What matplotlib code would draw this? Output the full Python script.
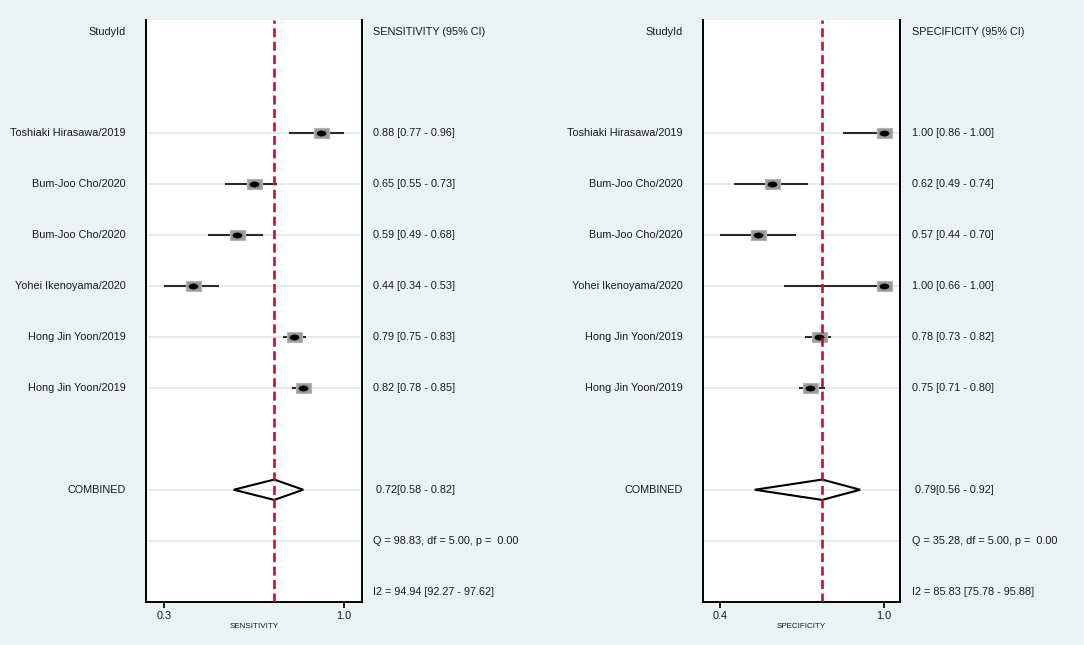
import numpy as np
import matplotlib
matplotlib.use('Agg')
import matplotlib.pyplot as plt
from matplotlib.patches import Polygon

# フォント設定
plt.rcParams['font.family'] = ['Liberation Sans', 'DejaVu Sans']
plt.rcParams['font.size'] = 7.8

# データ
studies = ['Toshiaki Hirasawa/2019', 'Bum-Joo Cho/2020', 'Bum-Joo Cho/2020',
           'Yohei Ikenoyama/2020', 'Hong Jin Yoon/2019', 'Hong Jin Yoon/2019']

sens = [0.88, 0.65, 0.59, 0.44, 0.79, 0.82]
sens_lo = [0.77, 0.55, 0.49, 0.34, 0.75, 0.78]
sens_hi = [0.96, 0.73, 0.68, 0.53, 0.83, 0.85]
sens_pooled = [0.72, 0.58, 0.82]
sens_q = [98.83, 5.00, 0.00]
sens_i2 = [94.94, 92.27, 97.62]

spec = [1.00, 0.62, 0.57, 1.00, 0.78, 0.75]
spec_lo = [0.86, 0.49, 0.44, 0.66, 0.73, 0.71]
spec_hi = [1.00, 0.74, 0.70, 1.00, 0.82, 0.80]
spec_pooled = [0.79, 0.56, 0.92]
spec_q = [35.28, 5.00, 0.00]
spec_i2 = [85.83, 75.78, 95.88]

BG = '#EAF2F3'
GRID = '#E2ECEF'
RED = '#C8102E'
TXT = '#1a1a1a'

W, H = 1084, 645


def box_marker(rx, ry):
    return [(-rx, -ry), (rx, -ry), (rx, ry), (-rx, ry), (-rx, -ry)]


def ellipse_marker(rx, ry):
    t = np.linspace(0, 2 * np.pi, 40)
    return list(zip(rx * np.cos(t), ry * np.sin(t)))


def draw_panel(ax, est, lo, hi, pooled, q, i2, header, xlabel, txt_off):
    rows = np.arange(2, 2 + len(est))
    row_comb, row_q, row_i2 = rows[-1] + 2, rows[-1] + 3, rows[-1] + 4

    ax.set_facecolor('white')
    xmin, xmax = min(lo), max(hi)
    pad = 0.1 * (xmax - xmin)
    ax.set_xlim(xmin - pad, xmax + pad)
    ax.set_ylim(row_i2 + 0.2, -0.23)

    # 横のグリッド線
    for r in list(rows) + [row_comb, row_q]:
        ax.axhline(r, xmin=0.01, xmax=0.99, color=GRID, lw=1.4, zorder=0)

    # 信頼区間と点
    ax.hlines(rows, lo, hi, color='#2b2b2b', lw=1.5, zorder=2)
    ax.plot(est, rows, ls='none', marker=box_marker(1.6, 1.0), ms=10.8,
            mfc='#9a9a9a', mec='#b5b5b5', mew=0.8, zorder=3)
    ax.plot(est, rows, ls='none', marker=ellipse_marker(1.75, 1.0), ms=6.7,
            mfc='black', mec='black', mew=0.3, zorder=4)

    # 統合推定値のダイヤ
    p_est, p_lo, p_hi = pooled
    dia = Polygon([(p_lo, row_comb), (p_est, row_comb - 0.2),
                   (p_hi, row_comb), (p_est, row_comb + 0.2)],
                  closed=True, fill=False, ec='black', lw=1.5, zorder=3)
    ax.add_patch(dia)

    ax.axvline(p_est, color=RED, lw=1.9, ls=(0, (3.4, 1.7)), zorder=5)

    # 軸の体裁
    ax.spines['top'].set_visible(False)
    for s in ['left', 'right', 'bottom']:
        ax.spines[s].set_linewidth(1.4)
        ax.spines[s].set_color('black')
    ax.set_yticks([])
    ax.set_xticks([xmin, xmax])
    ax.set_xticklabels([f'{xmin:.1f}', f'{xmax:.1f}'])
    ax.tick_params(axis='x', direction='out', length=4, width=1.4,
                   labelsize=7.8, pad=2.5, colors=TXT)
    ax.set_xlabel(xlabel, fontsize=5.8, labelpad=1.5, color=TXT)

    # 左側のラベル
    yax = ax.get_yaxis_transform()
    ax.annotate('StudyId', xy=(0, 0), xycoords=yax, xytext=(-14.8, 0),
                textcoords='offset points', ha='right', va='center', color=TXT)
    for r, name in zip(rows, studies):
        ax.annotate(name, xy=(0, r), xycoords=yax, xytext=(-14.8, 0),
                    textcoords='offset points', ha='right', va='center', color=TXT)
    ax.annotate('COMBINED', xy=(0, row_comb), xycoords=yax, xytext=(-14.8, 0),
                textcoords='offset points', ha='right', va='center', color=TXT)

    # 右側の数値
    right = [(0, header)]
    for r, e, l, h in zip(rows, est, lo, hi):
        right.append((r, f'{e:.2f} [{l:.2f} - {h:.2f}]'))
    right.append((row_comb, f' {p_est:.2f}[{p_lo:.2f} - {p_hi:.2f}]'))
    right.append((row_q, f'Q = {q[0]:.2f}, df = {q[1]:.2f}, p =  {q[2]:.2f}'))
    right.append((row_i2, f'I2 = {i2[0]:.2f} [{i2[1]:.2f} - {i2[2]:.2f}]'))
    for r, s in right:
        ax.annotate(s, xy=(1, r), xycoords=yax, xytext=(txt_off, 0),
                    textcoords='offset points', ha='left', va='center',
                    color=TXT, annotation_clip=False)


def main():
    fig = plt.figure(figsize=(W / 100, H / 100), dpi=100, facecolor=BG)
    bottom = (H - 601.7) / H
    height = (601.7 - 20) / H
    ax1 = fig.add_axes([146.4 / W, bottom, 215.2 / W, height])
    ax2 = fig.add_axes([703.3 / W, bottom, 196.7 / W, height])

    draw_panel(ax1, sens, sens_lo, sens_hi, sens_pooled, sens_q, sens_i2,
               'SENSITIVITY (95% CI)', 'SENSITIVITY', 7.9)
    draw_panel(ax2, spec, spec_lo, spec_hi, spec_pooled, spec_q, spec_i2,
               'SPECIFICITY (95% CI)', 'SPECIFICITY', 8.9)

    fig.savefig('out.png', dpi=100, facecolor=BG)


if __name__ == '__main__':
    main()
